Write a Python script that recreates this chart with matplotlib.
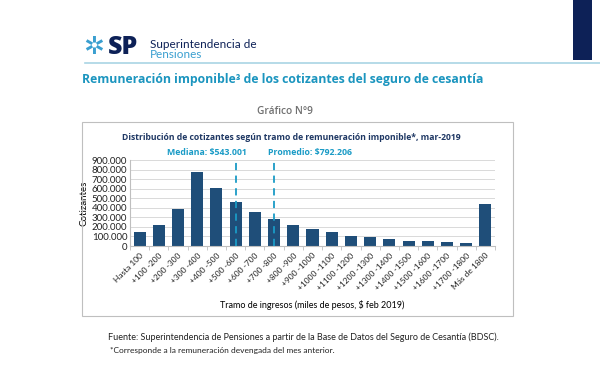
import matplotlib.pyplot as plt
from matplotlib.patches import Rectangle
from matplotlib.lines import Line2D

OUTPUT = "out.png"

tramos = ["Hasta 100", "+100 -200", "+200 -300", "+300 -400", "+400 -500",
          "+500 -600", "+600 -700", "+700 -800", "+800 -900", "+900 -1000",
          "+1000 -1100", "+1100 -1200", "+1200 -1300", "+1300 -1400",
          "+1400 -1500", "+1500 -1600", "+1600 -1700", "+1700 -1800", "Más de 1800"]
cotizantes = [146000, 223000, 390000, 773000, 610000, 463000, 359000, 279000,
              220000, 181000, 143000, 108000, 91000, 70000, 56000, 49000,
              42000, 35000, 442000]
yticks = [0, 100000, 200000, 300000, 400000, 500000, 600000, 700000, 800000, 900000]
mediana_idx, promedio_idx = 5, 7
mediana_txt = "Mediana: $543.001"
promedio_txt = "Promedio: $792.206"

plt.rcParams["font.family"] = ["Lato", "DejaVu Sans"]
BOLD = ["Open Sans", "DejaVu Sans"]
NAVY = "#1f4e79"
TEAL = "#1a9bc6"

fig = plt.figure(figsize=(6, 3.9), dpi=100)

# cabecera: logo, linea y barra lateral
fig.add_artist(Rectangle((573 / 600, 1 - 60 / 390), 19 / 600, 60 / 390,
                         transform=fig.transFigure, color="#0d2157", lw=0))
fig.add_artist(Line2D([85 / 600, 1], [1 - 63 / 390] * 2, transform=fig.transFigure,
                      color="#a9d4e4", lw=1.2))
fig.text(94 / 600, 1 - 47 / 390, "✲", fontsize=18, color="#3a9fd0",
         family=["DejaVu Sans"], ha="center", va="center")
fig.text(108 / 600, 1 - 47 / 390, "SP", fontsize=18, fontweight="heavy", family=BOLD,
         color="#0d2157", ha="left", va="center")
fig.text(150 / 600, 1 - 45 / 390, "Superintendencia de", fontsize=8.5,
         color="#0d2157", ha="left", va="center")
fig.text(150 / 600, 1 - 55 / 390, "Pensiones", fontsize=8.5,
         color="#3a9fd0", ha="left", va="center")

fig.text(82 / 600, 1 - 80 / 390,
         "Remuneración imponible³ de los cotizantes del seguro de cesantía",
         fontsize=8.8, fontweight="bold", family=BOLD, color="#1b95bf",
         ha="left", va="center")
fig.text(285 / 600, 1 - 112 / 390, "Gráfico N°9", fontsize=7.3, fontweight="semibold",
         family=BOLD, color="#707070", ha="center", va="center")

# recuadro del grafico
fig.add_artist(Rectangle((82 / 600, 1 - 316 / 390), 431 / 600, 194 / 390,
                         transform=fig.transFigure, fill=False, ec="#bfbfbf", lw=0.8))
fig.text(291 / 600, 1 - 137 / 390,
         "Distribución de cotizantes según tramo de remuneración imponible*, mar-2019",
         fontsize=6.25, fontweight="bold", family=BOLD, color="#1f3864",
         ha="center", va="center")

ax = fig.add_axes([130 / 600, 1 - 246 / 390, 365 / 600, 86 / 390])
xpos = range(len(tramos))
ax.bar(xpos, cotizantes, width=0.63, color=NAVY, zorder=2)
ax.set_xlim(-0.5, len(tramos) - 0.5)
ax.set_ylim(0, 900000)
ax.set_yticks(yticks)
ax.set_yticklabels([f"{v:,}".replace(",", ".") for v in yticks], fontsize=7, color="#222222")
ax.yaxis.grid(True, color="#d9d9d9", lw=0.7, zorder=0)
ax.tick_params(axis="y", length=0, pad=2)
ax.set_xticks(list(xpos))
ax.set_xticklabels(tramos, rotation=45, ha="right", rotation_mode="anchor",
                   fontsize=6, color="#222222")
ax.tick_params(axis="x", length=0, pad=4)
ax.set_xticks([i + 0.5 for i in range(-1, len(tramos))], minor=True)
ax.tick_params(axis="x", which="minor", length=3, color="#bfbfbf")
for s in ["top", "right"]:
    ax.spines[s].set_visible(False)
ax.spines["left"].set_color("#bfbfbf")
ax.spines["bottom"].set_color("#bfbfbf")
ax.set_ylabel("Cotizantes", fontsize=7, labelpad=2)
ax.set_xlabel("Tramo de ingresos (miles de pesos, $ feb 2019)", fontsize=6.5, labelpad=6)

ax.axvline(mediana_idx, color=TEAL, lw=1.3, ls=(0, (4, 3)), zorder=3)
ax.axvline(promedio_idx, color=TEAL, lw=1.3, ls=(0, (4, 3)), zorder=3)
ax.annotate(mediana_txt, (mediana_idx, 900000), xytext=(11, 3), textcoords="offset pixels",
            fontsize=6.3, fontweight="bold", family=BOLD, color=TEAL,
            ha="right", va="bottom")
ax.annotate(promedio_txt, (promedio_idx, 900000), xytext=(-6, 3), textcoords="offset pixels",
            fontsize=6.3, fontweight="bold", family=BOLD, color=TEAL,
            ha="left", va="bottom")

fig.text(108 / 600, 1 - 337 / 390,
         "Fuente: Superintendencia de Pensiones a partir de la Base de Datos del Seguro de Cesantía (BDSC).",
         fontsize=6.5, color="#222222", ha="left", va="center")
fig.text(110 / 600, 1 - 350 / 390,
         "*Corresponde a la remuneración devengada del mes anterior.",
         fontsize=6, color="#222222", ha="left", va="center")

fig.savefig(OUTPUT, dpi=100)
